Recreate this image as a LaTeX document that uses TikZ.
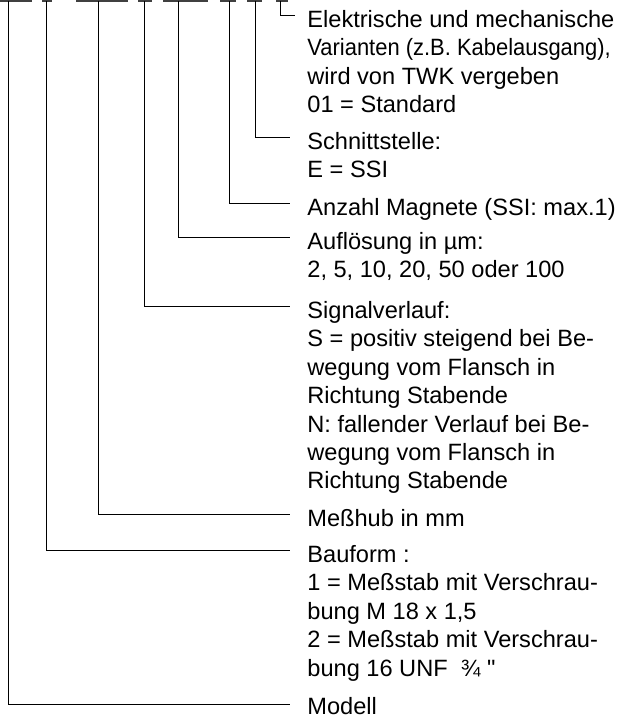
\documentclass[tikz,border=0pt]{standalone}
\usepackage{fontspec}
\setmainfont{Liberation Sans}
\usepackage{tikz}
\usetikzlibrary{positioning}

\begin{document}
\begin{tikzpicture}[
        x=0.5pt, y=-0.5pt,
        field/.style={line width=0.7pt, black!75},
        lead/.style={line width=0.5pt},
        desc/.style={anchor=north west, inner sep=0pt, align=left,
            font=\fontsize{11.8}{14.2}\selectfont}
    ]
        \useasboundingbox (0,0) rectangle (626,718);

        \coordinate (fModell) at (8,1);
        \coordinate (fBauform) at (46,1);
        \coordinate (fHub) at (98,1);
        \coordinate (fSignal) at (144,1);
        \coordinate (fAufl) at (178,1);
        \coordinate (fMagnete) at (229,1);
        \coordinate (fSchnitt) at (255,1);
        \coordinate (fVariante) at (280,1);

        \draw[field] (0,1) -- (32,1);
        \draw[field] (42,1) -- (52,1);
        \draw[field] (76,1) -- (128,1);
        \draw[field] (138,1) -- (152,1);
        \draw[field] (163,1) -- (208,1);
        \draw[field] (220,1) -- (236,1);
        \draw[field] (247,1) -- (262,1);
        \draw[field] (276,1) -- (288,1);

        \coordinate (eVariante) at (295,15);
        \coordinate (eSchnitt) at (290,137);
        \coordinate (eMagnete) at (290,203);
        \coordinate (eAufl) at (290,237);
        \coordinate (eSignal) at (290,306);
        \coordinate (eHub) at (290,514);
        \coordinate (eBauform) at (290,550);
        \coordinate (eModell) at (290,704);

        \node[desc] (variante) at (307,10) {Elektrische und mechanische\\\scalebox{0.93}[1]{Varianten (z.B. Kabelausgang),}\\wird von TWK vergeben\\01 = Standard};
        \node[desc] (schnitt) at (307,132) {Schnittstelle:\\E = SSI};
        \node[desc] (magnete) at (307,198) {Anzahl Magnete (SSI: max.1)};
        \node[desc] (aufl) at (307,232) {Auflösung in µm:\\2, 5, 10, 20, 50 oder 100};
        \node[desc] (signal) at (307,301) {Signalverlauf:\\S = positiv steigend bei Be-\\wegung vom Flansch in\\Richtung Stabende\\N: fallender Verlauf bei Be-\\wegung vom Flansch in\\Richtung Stabende};
        \node[desc] (hub) at (307,509) {Meßhub in mm};
        \node[desc] (bauform) at (307,545) {Bauform :\\1 = Meßstab mit Verschrau-\\bung M 18 x 1,5\\2 = Meßstab mit Verschrau-\\bung 16 UNF \ ¾ \textquotedbl};
        \node[desc] (modell) at (307,697) {Modell};

        \draw[lead] (fVariante) |- (eVariante);
        \draw[lead] (fSchnitt) |- (eSchnitt);
        \draw[lead] (fMagnete) |- (eMagnete);
        \draw[lead] (fAufl) |- (eAufl);
        \draw[lead] (fSignal) |- (eSignal);
        \draw[lead] (fHub) |- (eHub);
        \draw[lead] (fBauform) |- (eBauform);
        \draw[lead] (fModell) |- (eModell);
    \end{tikzpicture}
\end{document}
